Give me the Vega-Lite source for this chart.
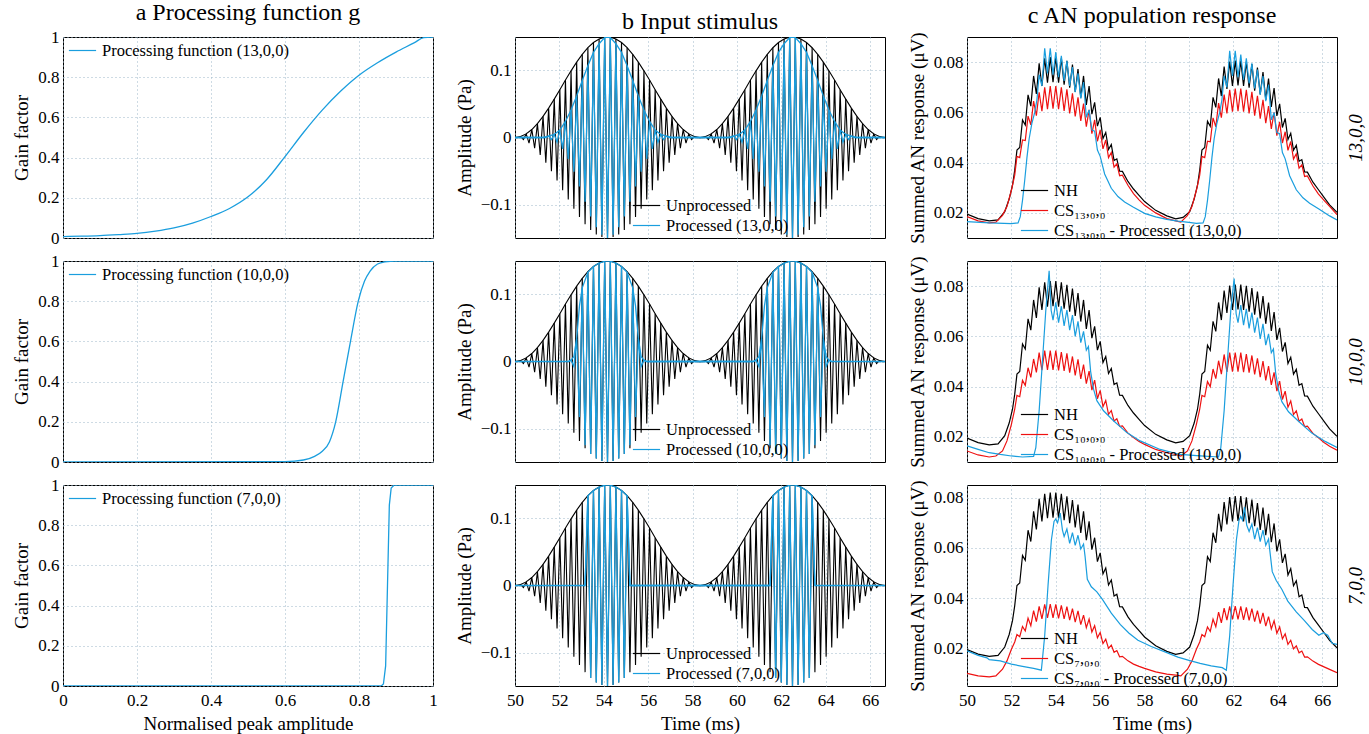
{
"$schema":"https://vega.github.io/schema/vega-lite/v6.json",
"background":"white",
"padding":{"left":12,"top":0,"right":2,"bottom":2},
"config":{
 "font":"Liberation Serif",
 "view":{"stroke":"#000","strokeWidth":1},
 "axis":{"labelFontSize":17,"titleFontSize":19,"titleFontWeight":"normal","labelColor":"#000","titleColor":"#000","gridColor":"#9db7c9","gridDash":[1,3],"gridWidth":1,"domain":false,"ticks":false,"titlePadding":6,"labelFlush":false,"labelOverlap":false},
 "axisX":{"labelPadding":6},
 "axisY":{"labelPadding":4},
 "legend":{"labelFontSize":16.5,"labelColor":"#000","symbolType":"M-1.6,0H1.6","symbolStrokeWidth":1.3,"symbolSize":289,"rowPadding":2,"padding":0,"labelLimit":400,"title":null,"labelOffset":10},
 "title":{"fontSize":24,"fontWeight":"normal","color":"#000","offset":3,"frame":"group"},
 "line":{"strokeWidth":1.2}
},
"datasets":{
"g13":[{"x":0,"y":0.007},{"x":0.05,"y":0.009},{"x":0.1,"y":0.012},{"x":0.15,"y":0.017},{"x":0.2,"y":0.023},{"x":0.25,"y":0.034},{"x":0.3,"y":0.05},{"x":0.35,"y":0.074},{"x":0.4,"y":0.107},{"x":0.45,"y":0.147},{"x":0.5,"y":0.205},{"x":0.55,"y":0.29},{"x":0.6,"y":0.405},{"x":0.65,"y":0.525},{"x":0.7,"y":0.635},{"x":0.75,"y":0.73},{"x":0.8,"y":0.81},{"x":0.85,"y":0.872},{"x":0.9,"y":0.925},{"x":0.95,"y":0.972},{"x":0.975,"y":0.997},{"x":1,"y":1}],
"g10":[{"x":0,"y":0},{"x":0.6,"y":0.002},{"x":0.65,"y":0.01},{"x":0.68,"y":0.028},{"x":0.7,"y":0.052},{"x":0.72,"y":0.1},{"x":0.737,"y":0.2},{"x":0.757,"y":0.4},{"x":0.777,"y":0.6},{"x":0.798,"y":0.8},{"x":0.815,"y":0.9},{"x":0.83,"y":0.95},{"x":0.85,"y":0.985},{"x":0.87,"y":0.996},{"x":0.9,"y":1},{"x":1,"y":1}],
"g7":[{"x":0,"y":0},{"x":0.86,"y":0},{"x":0.866,"y":0.01},{"x":0.872,"y":0.1},{"x":0.877,"y":0.5},{"x":0.882,"y":0.9},{"x":0.887,"y":0.985},{"x":0.895,"y":1},{"x":1,"y":1}],
"unpw":[{"t":50,"v":0},{"t":50.126,"v":-0.0003},{"t":50.253,"v":0.0014},{"t":50.379,"v":-0.003},{"t":50.505,"v":0.0054},{"t":50.631,"v":-0.0083},{"t":50.758,"v":0.0119},{"t":50.884,"v":-0.016},{"t":51.01,"v":0.0207},{"t":51.136,"v":-0.0259},{"t":51.263,"v":0.0315},{"t":51.389,"v":-0.0375},{"t":51.515,"v":0.0438},{"t":51.641,"v":-0.0505},{"t":51.768,"v":0.0573},{"t":51.894,"v":-0.0643},{"t":52.02,"v":0.0714},{"t":52.146,"v":-0.0786},{"t":52.273,"v":0.0857},{"t":52.399,"v":-0.0927},{"t":52.525,"v":0.0995},{"t":52.652,"v":-0.1062},{"t":52.778,"v":0.1125},{"t":52.904,"v":-0.1185},{"t":53.03,"v":0.1241},{"t":53.157,"v":-0.1293},{"t":53.283,"v":0.134},{"t":53.409,"v":-0.1381},{"t":53.535,"v":0.1417},{"t":53.662,"v":-0.1446},{"t":53.788,"v":0.147},{"t":53.914,"v":-0.1486},{"t":54.04,"v":0.1497},{"t":54.167,"v":-0.15},{"t":54.293,"v":0.1497},{"t":54.419,"v":-0.1486},{"t":54.545,"v":0.147},{"t":54.672,"v":-0.1446},{"t":54.798,"v":0.1417},{"t":54.924,"v":-0.1381},{"t":55.05,"v":0.134},{"t":55.177,"v":-0.1293},{"t":55.303,"v":0.1241},{"t":55.429,"v":-0.1185},{"t":55.556,"v":0.1125},{"t":55.682,"v":-0.1062},{"t":55.808,"v":0.0995},{"t":55.934,"v":-0.0927},{"t":56.061,"v":0.0857},{"t":56.187,"v":-0.0786},{"t":56.313,"v":0.0714},{"t":56.439,"v":-0.0643},{"t":56.566,"v":0.0573},{"t":56.692,"v":-0.0505},{"t":56.818,"v":0.0438},{"t":56.944,"v":-0.0375},{"t":57.071,"v":0.0315},{"t":57.197,"v":-0.0259},{"t":57.323,"v":0.0207},{"t":57.449,"v":-0.016},{"t":57.576,"v":0.0119},{"t":57.702,"v":-0.0083},{"t":57.828,"v":0.0054},{"t":57.955,"v":-0.003},{"t":58.081,"v":0.0014},{"t":58.207,"v":-0.0003},{"t":58.333,"v":0},{"t":58.46,"v":-0.0003},{"t":58.586,"v":0.0014},{"t":58.712,"v":-0.003},{"t":58.838,"v":0.0054},{"t":58.965,"v":-0.0083},{"t":59.091,"v":0.0119},{"t":59.217,"v":-0.016},{"t":59.343,"v":0.0207},{"t":59.47,"v":-0.0259},{"t":59.596,"v":0.0315},{"t":59.722,"v":-0.0375},{"t":59.848,"v":0.0438},{"t":59.975,"v":-0.0505},{"t":60.101,"v":0.0573},{"t":60.227,"v":-0.0643},{"t":60.354,"v":0.0714},{"t":60.48,"v":-0.0786},{"t":60.606,"v":0.0857},{"t":60.732,"v":-0.0927},{"t":60.859,"v":0.0995},{"t":60.985,"v":-0.1062},{"t":61.111,"v":0.1125},{"t":61.237,"v":-0.1185},{"t":61.364,"v":0.1241},{"t":61.49,"v":-0.1293},{"t":61.616,"v":0.134},{"t":61.742,"v":-0.1381},{"t":61.869,"v":0.1417},{"t":61.995,"v":-0.1446},{"t":62.121,"v":0.147},{"t":62.247,"v":-0.1486},{"t":62.374,"v":0.1497},{"t":62.5,"v":-0.15},{"t":62.626,"v":0.1497},{"t":62.753,"v":-0.1486},{"t":62.879,"v":0.147},{"t":63.005,"v":-0.1446},{"t":63.131,"v":0.1417},{"t":63.258,"v":-0.1381},{"t":63.384,"v":0.134},{"t":63.51,"v":-0.1293},{"t":63.636,"v":0.1241},{"t":63.763,"v":-0.1185},{"t":63.889,"v":0.1125},{"t":64.015,"v":-0.1062},{"t":64.141,"v":0.0995},{"t":64.268,"v":-0.0927},{"t":64.394,"v":0.0857},{"t":64.52,"v":-0.0786},{"t":64.646,"v":0.0714},{"t":64.773,"v":-0.0643},{"t":64.899,"v":0.0573},{"t":65.025,"v":-0.0505},{"t":65.152,"v":0.0438},{"t":65.278,"v":-0.0375},{"t":65.404,"v":0.0315},{"t":65.53,"v":-0.0259},{"t":65.657,"v":0.0207},{"t":65.783,"v":-0.016},{"t":65.909,"v":0.0119},{"t":66.035,"v":-0.0083},{"t":66.162,"v":0.0054},{"t":66.288,"v":-0.003},{"t":66.414,"v":0.0014},{"t":66.54,"v":-0.0003},{"t":66.667,"v":0}],
"unpe":[{"t":50,"v":0},{"t":50.253,"v":0.0014},{"t":50.505,"v":0.0054},{"t":50.758,"v":0.0119},{"t":51.01,"v":0.0207},{"t":51.263,"v":0.0315},{"t":51.515,"v":0.0438},{"t":51.768,"v":0.0573},{"t":52.02,"v":0.0714},{"t":52.273,"v":0.0857},{"t":52.525,"v":0.0995},{"t":52.778,"v":0.1125},{"t":53.03,"v":0.1241},{"t":53.283,"v":0.134},{"t":53.535,"v":0.1417},{"t":53.788,"v":0.147},{"t":54.04,"v":0.1497},{"t":54.167,"v":0.15},{"t":54.293,"v":0.1497},{"t":54.545,"v":0.147},{"t":54.798,"v":0.1417},{"t":55.05,"v":0.134},{"t":55.303,"v":0.1241},{"t":55.556,"v":0.1125},{"t":55.808,"v":0.0995},{"t":56.061,"v":0.0857},{"t":56.313,"v":0.0714},{"t":56.566,"v":0.0573},{"t":56.818,"v":0.0438},{"t":57.071,"v":0.0315},{"t":57.323,"v":0.0207},{"t":57.576,"v":0.0119},{"t":57.828,"v":0.0054},{"t":58.081,"v":0.0014},{"t":58.333,"v":0},{"t":58.586,"v":0.0014},{"t":58.838,"v":0.0054},{"t":59.091,"v":0.0119},{"t":59.343,"v":0.0207},{"t":59.596,"v":0.0315},{"t":59.848,"v":0.0438},{"t":60.101,"v":0.0573},{"t":60.354,"v":0.0714},{"t":60.606,"v":0.0857},{"t":60.859,"v":0.0995},{"t":61.111,"v":0.1125},{"t":61.364,"v":0.1241},{"t":61.616,"v":0.134},{"t":61.869,"v":0.1417},{"t":62.121,"v":0.147},{"t":62.374,"v":0.1497},{"t":62.5,"v":0.15},{"t":62.626,"v":0.1497},{"t":62.879,"v":0.147},{"t":63.131,"v":0.1417},{"t":63.384,"v":0.134},{"t":63.636,"v":0.1241},{"t":63.889,"v":0.1125},{"t":64.141,"v":0.0995},{"t":64.394,"v":0.0857},{"t":64.646,"v":0.0714},{"t":64.899,"v":0.0573},{"t":65.152,"v":0.0438},{"t":65.404,"v":0.0315},{"t":65.657,"v":0.0207},{"t":65.909,"v":0.0119},{"t":66.162,"v":0.0054},{"t":66.414,"v":0.0014},{"t":66.667,"v":0}],
"p13w":[{"t":50,"v":0},{"t":51.389,"v":0},{"t":51.515,"v":0.002},{"t":51.641,"v":-0.003},{"t":51.768,"v":0.0045},{"t":51.894,"v":-0.007},{"t":52.02,"v":0.011},{"t":52.146,"v":-0.017},{"t":52.273,"v":0.024},{"t":52.399,"v":-0.032},{"t":52.525,"v":0.041},{"t":52.652,"v":-0.051},{"t":52.778,"v":0.062},{"t":52.904,"v":-0.073},{"t":53.03,"v":0.085},{"t":53.157,"v":-0.096},{"t":53.283,"v":0.107},{"t":53.409,"v":-0.118},{"t":53.535,"v":0.127},{"t":53.662,"v":-0.134},{"t":53.788,"v":0.14},{"t":53.914,"v":-0.145},{"t":54.04,"v":0.149},{"t":54.167,"v":-0.15},{"t":54.293,"v":0.149},{"t":54.419,"v":-0.145},{"t":54.545,"v":0.14},{"t":54.672,"v":-0.134},{"t":54.798,"v":0.127},{"t":54.924,"v":-0.118},{"t":55.05,"v":0.107},{"t":55.177,"v":-0.096},{"t":55.303,"v":0.085},{"t":55.429,"v":-0.073},{"t":55.556,"v":0.062},{"t":55.682,"v":-0.051},{"t":55.808,"v":0.041},{"t":55.934,"v":-0.032},{"t":56.061,"v":0.024},{"t":56.187,"v":-0.017},{"t":56.313,"v":0.011},{"t":56.439,"v":-0.007},{"t":56.566,"v":0.0045},{"t":56.692,"v":-0.003},{"t":56.818,"v":0.002},{"t":56.944,"v":0},{"t":59.722,"v":0},{"t":59.848,"v":0.002},{"t":59.975,"v":-0.003},{"t":60.101,"v":0.0045},{"t":60.227,"v":-0.007},{"t":60.354,"v":0.011},{"t":60.48,"v":-0.017},{"t":60.606,"v":0.024},{"t":60.732,"v":-0.032},{"t":60.859,"v":0.041},{"t":60.985,"v":-0.051},{"t":61.111,"v":0.062},{"t":61.237,"v":-0.073},{"t":61.364,"v":0.085},{"t":61.49,"v":-0.096},{"t":61.616,"v":0.107},{"t":61.742,"v":-0.118},{"t":61.869,"v":0.127},{"t":61.995,"v":-0.134},{"t":62.121,"v":0.14},{"t":62.247,"v":-0.145},{"t":62.374,"v":0.149},{"t":62.5,"v":-0.15},{"t":62.626,"v":0.149},{"t":62.753,"v":-0.145},{"t":62.879,"v":0.14},{"t":63.005,"v":-0.134},{"t":63.131,"v":0.127},{"t":63.258,"v":-0.118},{"t":63.384,"v":0.107},{"t":63.51,"v":-0.096},{"t":63.636,"v":0.085},{"t":63.763,"v":-0.073},{"t":63.889,"v":0.062},{"t":64.015,"v":-0.051},{"t":64.141,"v":0.041},{"t":64.268,"v":-0.032},{"t":64.394,"v":0.024},{"t":64.52,"v":-0.017},{"t":64.646,"v":0.011},{"t":64.773,"v":-0.007},{"t":64.899,"v":0.0045},{"t":65.025,"v":-0.003},{"t":65.152,"v":0.002},{"t":65.278,"v":0},{"t":66.667,"v":0}],
"p13e":[{"t":50,"v":0},{"t":51.263,"v":0},{"t":51.515,"v":0.002},{"t":51.768,"v":0.0045},{"t":52.02,"v":0.011},{"t":52.273,"v":0.024},{"t":52.525,"v":0.041},{"t":52.778,"v":0.062},{"t":53.03,"v":0.085},{"t":53.283,"v":0.107},{"t":53.535,"v":0.127},{"t":53.788,"v":0.14},{"t":54.04,"v":0.149},{"t":54.167,"v":0.15},{"t":54.293,"v":0.149},{"t":54.545,"v":0.14},{"t":54.798,"v":0.127},{"t":55.05,"v":0.107},{"t":55.303,"v":0.085},{"t":55.556,"v":0.062},{"t":55.808,"v":0.041},{"t":56.061,"v":0.024},{"t":56.313,"v":0.011},{"t":56.566,"v":0.0045},{"t":56.818,"v":0.002},{"t":57.071,"v":0},{"t":59.596,"v":0},{"t":59.848,"v":0.002},{"t":60.101,"v":0.0045},{"t":60.354,"v":0.011},{"t":60.606,"v":0.024},{"t":60.859,"v":0.041},{"t":61.111,"v":0.062},{"t":61.364,"v":0.085},{"t":61.616,"v":0.107},{"t":61.869,"v":0.127},{"t":62.121,"v":0.14},{"t":62.374,"v":0.149},{"t":62.5,"v":0.15},{"t":62.626,"v":0.149},{"t":62.879,"v":0.14},{"t":63.131,"v":0.127},{"t":63.384,"v":0.107},{"t":63.636,"v":0.085},{"t":63.889,"v":0.062},{"t":64.141,"v":0.041},{"t":64.394,"v":0.024},{"t":64.646,"v":0.011},{"t":64.899,"v":0.0045},{"t":65.152,"v":0.002},{"t":65.404,"v":0},{"t":66.667,"v":0}],
"p10w":[{"t":50,"v":0},{"t":52.399,"v":0},{"t":52.525,"v":0.002},{"t":52.652,"v":-0.0074},{"t":52.778,"v":0.034},{"t":52.904,"v":-0.083},{"t":53.03,"v":0.11},{"t":53.157,"v":-0.125},{"t":53.283,"v":0.133},{"t":53.409,"v":-0.138},{"t":53.535,"v":0.1417},{"t":53.662,"v":-0.1446},{"t":53.788,"v":0.147},{"t":53.914,"v":-0.1486},{"t":54.04,"v":0.1497},{"t":54.167,"v":-0.15},{"t":54.293,"v":0.1497},{"t":54.419,"v":-0.1486},{"t":54.545,"v":0.147},{"t":54.672,"v":-0.1446},{"t":54.798,"v":0.1417},{"t":54.924,"v":-0.138},{"t":55.05,"v":0.133},{"t":55.177,"v":-0.125},{"t":55.303,"v":0.11},{"t":55.429,"v":-0.083},{"t":55.556,"v":0.034},{"t":55.682,"v":-0.0074},{"t":55.808,"v":0.002},{"t":55.934,"v":0},{"t":60.732,"v":0},{"t":60.859,"v":0.002},{"t":60.985,"v":-0.0074},{"t":61.111,"v":0.034},{"t":61.237,"v":-0.083},{"t":61.364,"v":0.11},{"t":61.49,"v":-0.125},{"t":61.616,"v":0.133},{"t":61.742,"v":-0.138},{"t":61.869,"v":0.1417},{"t":61.995,"v":-0.1446},{"t":62.121,"v":0.147},{"t":62.247,"v":-0.1486},{"t":62.374,"v":0.1497},{"t":62.5,"v":-0.15},{"t":62.626,"v":0.1497},{"t":62.753,"v":-0.1486},{"t":62.879,"v":0.147},{"t":63.005,"v":-0.1446},{"t":63.131,"v":0.1417},{"t":63.258,"v":-0.138},{"t":63.384,"v":0.133},{"t":63.51,"v":-0.125},{"t":63.636,"v":0.11},{"t":63.763,"v":-0.083},{"t":63.889,"v":0.034},{"t":64.015,"v":-0.0074},{"t":64.141,"v":0.002},{"t":64.268,"v":0},{"t":66.667,"v":0}],
"p10e":[{"t":52.399,"v":0},{"t":52.525,"v":0.002},{"t":52.652,"v":0.0074},{"t":52.778,"v":0.034},{"t":52.904,"v":0.083},{"t":53.03,"v":0.11},{"t":53.283,"v":0.133},{"t":53.535,"v":0.1417},{"t":53.788,"v":0.147},{"t":54.04,"v":0.1497},{"t":54.167,"v":0.15},{"t":54.293,"v":0.1497},{"t":54.545,"v":0.147},{"t":54.798,"v":0.1417},{"t":55.05,"v":0.133},{"t":55.303,"v":0.11},{"t":55.429,"v":0.083},{"t":55.556,"v":0.034},{"t":55.682,"v":0.0074},{"t":55.808,"v":0.002},{"t":55.934,"v":0},{"t":60.732,"v":0},{"t":60.859,"v":0.002},{"t":60.985,"v":0.0074},{"t":61.111,"v":0.034},{"t":61.237,"v":0.083},{"t":61.364,"v":0.11},{"t":61.616,"v":0.133},{"t":61.869,"v":0.1417},{"t":62.121,"v":0.147},{"t":62.374,"v":0.1497},{"t":62.5,"v":0.15},{"t":62.626,"v":0.1497},{"t":62.879,"v":0.147},{"t":63.131,"v":0.1417},{"t":63.384,"v":0.133},{"t":63.636,"v":0.11},{"t":63.763,"v":0.083},{"t":63.889,"v":0.034},{"t":64.015,"v":0.0074},{"t":64.141,"v":0.002},{"t":64.268,"v":0}],
"p7w":[{"t":50,"v":0},{"t":53.157,"v":0},{"t":53.283,"v":0.134},{"t":53.409,"v":-0.1381},{"t":53.535,"v":0.1417},{"t":53.662,"v":-0.1446},{"t":53.788,"v":0.147},{"t":53.914,"v":-0.1486},{"t":54.04,"v":0.1497},{"t":54.167,"v":-0.15},{"t":54.293,"v":0.1497},{"t":54.419,"v":-0.1486},{"t":54.545,"v":0.147},{"t":54.672,"v":-0.1446},{"t":54.798,"v":0.1417},{"t":54.924,"v":-0.1381},{"t":55.05,"v":0.134},{"t":55.177,"v":0},{"t":61.49,"v":0},{"t":61.616,"v":0.134},{"t":61.742,"v":-0.1381},{"t":61.869,"v":0.1417},{"t":61.995,"v":-0.1446},{"t":62.121,"v":0.147},{"t":62.247,"v":-0.1486},{"t":62.374,"v":0.1497},{"t":62.5,"v":-0.15},{"t":62.626,"v":0.1497},{"t":62.753,"v":-0.1486},{"t":62.879,"v":0.147},{"t":63.005,"v":-0.1446},{"t":63.131,"v":0.1417},{"t":63.258,"v":-0.1381},{"t":63.384,"v":0.134},{"t":63.51,"v":0},{"t":66.667,"v":0}],
"p7e":[{"t":53.157,"v":0},{"t":53.283,"v":0.134},{"t":53.535,"v":0.1417},{"t":53.788,"v":0.147},{"t":54.04,"v":0.1497},{"t":54.167,"v":0.15},{"t":54.293,"v":0.1497},{"t":54.545,"v":0.147},{"t":54.798,"v":0.1417},{"t":55.05,"v":0.134},{"t":55.177,"v":0},{"t":61.49,"v":0},{"t":61.616,"v":0.134},{"t":61.869,"v":0.1417},{"t":62.121,"v":0.147},{"t":62.374,"v":0.1497},{"t":62.5,"v":0.15},{"t":62.626,"v":0.1497},{"t":62.879,"v":0.147},{"t":63.131,"v":0.1417},{"t":63.384,"v":0.134},{"t":63.51,"v":0}],
"nh":[{"t":50,"v":0.0195},{"t":50.5,"v":0.0177},{"t":51,"v":0.0168},{"t":51.4,"v":0.0172},{"t":51.7,"v":0.0205},{"t":51.9,"v":0.0255},{"t":52.05,"v":0.031},{"t":52.15,"v":0.037},{"t":52.25,"v":0.045},{"t":52.375,"v":0.046},{"t":52.5,"v":0.057},{"t":52.625,"v":0.055},{"t":52.75,"v":0.067},{"t":52.875,"v":0.0625},{"t":53,"v":0.0745},{"t":53.125,"v":0.0673},{"t":53.25,"v":0.0795},{"t":53.375,"v":0.0705},{"t":53.5,"v":0.0815},{"t":53.625,"v":0.0718},{"t":53.75,"v":0.082},{"t":53.875,"v":0.072},{"t":54,"v":0.082},{"t":54.125,"v":0.0718},{"t":54.25,"v":0.0815},{"t":54.375,"v":0.071},{"t":54.5,"v":0.0805},{"t":54.625,"v":0.0698},{"t":54.75,"v":0.079},{"t":54.875,"v":0.0681},{"t":55,"v":0.0772},{"t":55.125,"v":0.0659},{"t":55.25,"v":0.0745},{"t":55.375,"v":0.063},{"t":55.5,"v":0.0705},{"t":55.625,"v":0.0593},{"t":55.75,"v":0.064},{"t":55.875,"v":0.0545},{"t":56,"v":0.058},{"t":56.125,"v":0.0496},{"t":56.25,"v":0.052},{"t":56.375,"v":0.0452},{"t":56.5,"v":0.0472},{"t":56.625,"v":0.0408},{"t":56.75,"v":0.0415},{"t":56.875,"v":0.0366},{"t":57,"v":0.0365},{"t":57.25,"v":0.0325},{"t":57.5,"v":0.0295},{"t":57.75,"v":0.027},{"t":58,"v":0.0245},{"t":58.5,"v":0.021},{"t":59,"v":0.0188},{"t":59.4,"v":0.0176},{"t":59.733,"v":0.0182},{"t":60.033,"v":0.0205},{"t":60.233,"v":0.0255},{"t":60.383,"v":0.031},{"t":60.483,"v":0.037},{"t":60.583,"v":0.045},{"t":60.708,"v":0.046},{"t":60.833,"v":0.0565},{"t":60.958,"v":0.0545},{"t":61.083,"v":0.066},{"t":61.208,"v":0.062},{"t":61.333,"v":0.0735},{"t":61.458,"v":0.0665},{"t":61.583,"v":0.0782},{"t":61.708,"v":0.0693},{"t":61.833,"v":0.0802},{"t":61.958,"v":0.0705},{"t":62.083,"v":0.0806},{"t":62.208,"v":0.0707},{"t":62.333,"v":0.0806},{"t":62.458,"v":0.0705},{"t":62.583,"v":0.0801},{"t":62.708,"v":0.0698},{"t":62.833,"v":0.0792},{"t":62.958,"v":0.0686},{"t":63.083,"v":0.0778},{"t":63.208,"v":0.0671},{"t":63.333,"v":0.076},{"t":63.458,"v":0.065},{"t":63.583,"v":0.0735},{"t":63.708,"v":0.0622},{"t":63.833,"v":0.0697},{"t":63.958,"v":0.0586},{"t":64.083,"v":0.0634},{"t":64.208,"v":0.054},{"t":64.333,"v":0.0576},{"t":64.458,"v":0.0492},{"t":64.583,"v":0.0517},{"t":64.708,"v":0.0449},{"t":64.833,"v":0.0469},{"t":64.958,"v":0.0405},{"t":65.083,"v":0.0412},{"t":65.208,"v":0.0363},{"t":65.333,"v":0.0362},{"t":65.583,"v":0.0322},{"t":65.833,"v":0.0292},{"t":66.083,"v":0.0262},{"t":66.333,"v":0.0232},{"t":66.667,"v":0.0202}],
"cs13":[{"t":50,"v":0.0185},{"t":50.5,"v":0.0168},{"t":51,"v":0.016},{"t":51.3,"v":0.0163},{"t":51.6,"v":0.019},{"t":51.8,"v":0.0225},{"t":52,"v":0.029},{"t":52.15,"v":0.035},{"t":52.25,"v":0.0425},{"t":52.375,"v":0.042},{"t":52.5,"v":0.049},{"t":52.625,"v":0.0488},{"t":52.75,"v":0.0585},{"t":52.875,"v":0.055},{"t":53,"v":0.0645},{"t":53.125,"v":0.0587},{"t":53.25,"v":0.068},{"t":53.375,"v":0.0605},{"t":53.5,"v":0.07},{"t":53.625,"v":0.0613},{"t":53.75,"v":0.0705},{"t":53.875,"v":0.0615},{"t":54,"v":0.0705},{"t":54.125,"v":0.0613},{"t":54.25,"v":0.07},{"t":54.375,"v":0.0606},{"t":54.5,"v":0.0692},{"t":54.625,"v":0.0596},{"t":54.75,"v":0.0676},{"t":54.875,"v":0.0584},{"t":55,"v":0.066},{"t":55.125,"v":0.0566},{"t":55.25,"v":0.0635},{"t":55.375,"v":0.0543},{"t":55.5,"v":0.061},{"t":55.625,"v":0.0515},{"t":55.75,"v":0.057},{"t":55.875,"v":0.0485},{"t":56,"v":0.053},{"t":56.125,"v":0.0455},{"t":56.25,"v":0.049},{"t":56.375,"v":0.042},{"t":56.5,"v":0.044},{"t":56.625,"v":0.0382},{"t":56.75,"v":0.0395},{"t":56.875,"v":0.0348},{"t":57,"v":0.035},{"t":57.25,"v":0.031},{"t":57.5,"v":0.0277},{"t":57.75,"v":0.0252},{"t":58,"v":0.023},{"t":58.5,"v":0.02},{"t":59,"v":0.0177},{"t":59.4,"v":0.0168},{"t":59.633,"v":0.0163},{"t":59.933,"v":0.019},{"t":60.133,"v":0.0225},{"t":60.333,"v":0.029},{"t":60.483,"v":0.035},{"t":60.583,"v":0.0425},{"t":60.708,"v":0.042},{"t":60.833,"v":0.0485},{"t":60.958,"v":0.0483},{"t":61.083,"v":0.0578},{"t":61.208,"v":0.0543},{"t":61.333,"v":0.0637},{"t":61.458,"v":0.0579},{"t":61.583,"v":0.0671},{"t":61.708,"v":0.0596},{"t":61.833,"v":0.069},{"t":61.958,"v":0.0603},{"t":62.083,"v":0.0695},{"t":62.208,"v":0.0605},{"t":62.333,"v":0.0695},{"t":62.458,"v":0.0603},{"t":62.583,"v":0.069},{"t":62.708,"v":0.0596},{"t":62.833,"v":0.0682},{"t":62.958,"v":0.0587},{"t":63.083,"v":0.0666},{"t":63.208,"v":0.0575},{"t":63.333,"v":0.065},{"t":63.458,"v":0.0557},{"t":63.583,"v":0.0625},{"t":63.708,"v":0.0534},{"t":63.833,"v":0.06},{"t":63.958,"v":0.0507},{"t":64.083,"v":0.0562},{"t":64.208,"v":0.0478},{"t":64.333,"v":0.0523},{"t":64.458,"v":0.0449},{"t":64.583,"v":0.0484},{"t":64.708,"v":0.0414},{"t":64.833,"v":0.0435},{"t":64.958,"v":0.0378},{"t":65.083,"v":0.0391},{"t":65.208,"v":0.0345},{"t":65.333,"v":0.0347},{"t":65.583,"v":0.0307},{"t":65.833,"v":0.0275},{"t":66.083,"v":0.025},{"t":66.333,"v":0.0226},{"t":66.667,"v":0.0193}],
"p13":[{"t":50,"v":0.0165},{"t":51,"v":0.016},{"t":52,"v":0.0157},{"t":52.3,"v":0.016},{"t":52.4,"v":0.0185},{"t":52.5,"v":0.025},{"t":52.6,"v":0.033},{"t":52.7,"v":0.042},{"t":52.8,"v":0.0495},{"t":52.92,"v":0.0555},{"t":53.05,"v":0.06},{"t":53.15,"v":0.065},{"t":53.25,"v":0.075},{"t":53.375,"v":0.0705},{"t":53.5,"v":0.0855},{"t":53.625,"v":0.0755},{"t":53.75,"v":0.0855},{"t":53.875,"v":0.075},{"t":54,"v":0.084},{"t":54.125,"v":0.074},{"t":54.25,"v":0.0825},{"t":54.375,"v":0.0725},{"t":54.5,"v":0.0805},{"t":54.625,"v":0.0705},{"t":54.75,"v":0.078},{"t":54.875,"v":0.068},{"t":55,"v":0.0755},{"t":55.125,"v":0.0655},{"t":55.25,"v":0.072},{"t":55.375,"v":0.058},{"t":55.5,"v":0.061},{"t":55.625,"v":0.053},{"t":55.75,"v":0.0525},{"t":55.875,"v":0.045},{"t":56,"v":0.0425},{"t":56.2,"v":0.0355},{"t":56.5,"v":0.0298},{"t":56.8,"v":0.0265},{"t":57.1,"v":0.0243},{"t":57.5,"v":0.0222},{"t":58,"v":0.0198},{"t":58.5,"v":0.0184},{"t":59,"v":0.0174},{"t":59.5,"v":0.0167},{"t":60,"v":0.0162},{"t":60.333,"v":0.0158},{"t":60.633,"v":0.016},{"t":60.733,"v":0.0185},{"t":60.833,"v":0.025},{"t":60.933,"v":0.033},{"t":61.033,"v":0.042},{"t":61.133,"v":0.0495},{"t":61.253,"v":0.0555},{"t":61.383,"v":0.06},{"t":61.483,"v":0.065},{"t":61.583,"v":0.0745},{"t":61.708,"v":0.07},{"t":61.833,"v":0.0845},{"t":61.958,"v":0.0745},{"t":62.083,"v":0.0845},{"t":62.208,"v":0.074},{"t":62.333,"v":0.083},{"t":62.458,"v":0.073},{"t":62.583,"v":0.0815},{"t":62.708,"v":0.0715},{"t":62.833,"v":0.0795},{"t":62.958,"v":0.0695},{"t":63.083,"v":0.077},{"t":63.208,"v":0.067},{"t":63.333,"v":0.0745},{"t":63.458,"v":0.0645},{"t":63.583,"v":0.071},{"t":63.708,"v":0.057},{"t":63.833,"v":0.06},{"t":63.958,"v":0.052},{"t":64.083,"v":0.0515},{"t":64.208,"v":0.044},{"t":64.333,"v":0.0415},{"t":64.533,"v":0.0348},{"t":64.833,"v":0.0292},{"t":65.133,"v":0.026},{"t":65.433,"v":0.0238},{"t":65.833,"v":0.0216},{"t":66.333,"v":0.0188},{"t":66.667,"v":0.0172}],
"cs10":[{"t":50,"v":0.0144},{"t":50.5,"v":0.0128},{"t":51,"v":0.012},{"t":51.3,"v":0.0124},{"t":51.6,"v":0.0144},{"t":51.8,"v":0.0184},{"t":52,"v":0.025},{"t":52.15,"v":0.031},{"t":52.25,"v":0.0365},{"t":52.375,"v":0.036},{"t":52.5,"v":0.0425},{"t":52.625,"v":0.0405},{"t":52.75,"v":0.0475},{"t":52.875,"v":0.0437},{"t":53,"v":0.051},{"t":53.125,"v":0.0457},{"t":53.25,"v":0.0535},{"t":53.375,"v":0.0466},{"t":53.5,"v":0.0543},{"t":53.625,"v":0.0467},{"t":53.75,"v":0.0543},{"t":53.875,"v":0.0467},{"t":54,"v":0.0543},{"t":54.125,"v":0.0465},{"t":54.25,"v":0.0537},{"t":54.375,"v":0.0463},{"t":54.5,"v":0.0532},{"t":54.625,"v":0.0456},{"t":54.75,"v":0.052},{"t":54.875,"v":0.0445},{"t":55,"v":0.0509},{"t":55.125,"v":0.0431},{"t":55.25,"v":0.0488},{"t":55.375,"v":0.0412},{"t":55.5,"v":0.0462},{"t":55.625,"v":0.0386},{"t":55.75,"v":0.0426},{"t":55.875,"v":0.0352},{"t":56,"v":0.0385},{"t":56.125,"v":0.032},{"t":56.25,"v":0.0345},{"t":56.375,"v":0.029},{"t":56.5,"v":0.0305},{"t":56.625,"v":0.0263},{"t":56.75,"v":0.0272},{"t":56.875,"v":0.0242},{"t":57,"v":0.0244},{"t":57.25,"v":0.0215},{"t":57.5,"v":0.0197},{"t":57.75,"v":0.0182},{"t":58,"v":0.017},{"t":58.5,"v":0.015},{"t":59,"v":0.0137},{"t":59.4,"v":0.013},{"t":59.633,"v":0.0124},{"t":59.933,"v":0.0144},{"t":60.133,"v":0.0184},{"t":60.333,"v":0.025},{"t":60.483,"v":0.031},{"t":60.583,"v":0.0365},{"t":60.708,"v":0.036},{"t":60.833,"v":0.042},{"t":60.958,"v":0.04},{"t":61.083,"v":0.047},{"t":61.208,"v":0.0432},{"t":61.333,"v":0.0503},{"t":61.458,"v":0.045},{"t":61.583,"v":0.0528},{"t":61.708,"v":0.0459},{"t":61.833,"v":0.0535},{"t":61.958,"v":0.046},{"t":62.083,"v":0.0535},{"t":62.208,"v":0.046},{"t":62.333,"v":0.0535},{"t":62.458,"v":0.0458},{"t":62.583,"v":0.0529},{"t":62.708,"v":0.0456},{"t":62.833,"v":0.0524},{"t":62.958,"v":0.0449},{"t":63.083,"v":0.0513},{"t":63.208,"v":0.0438},{"t":63.333,"v":0.0502},{"t":63.458,"v":0.0425},{"t":63.583,"v":0.0482},{"t":63.708,"v":0.0407},{"t":63.833,"v":0.0457},{"t":63.958,"v":0.0382},{"t":64.083,"v":0.0422},{"t":64.208,"v":0.0349},{"t":64.333,"v":0.0382},{"t":64.458,"v":0.0318},{"t":64.583,"v":0.0343},{"t":64.708,"v":0.0289},{"t":64.833,"v":0.0304},{"t":64.958,"v":0.0262},{"t":65.083,"v":0.0271},{"t":65.208,"v":0.0241},{"t":65.333,"v":0.0243},{"t":65.583,"v":0.0214},{"t":65.833,"v":0.0196},{"t":66.083,"v":0.0178},{"t":66.333,"v":0.0163},{"t":66.667,"v":0.0147}],
"p10":[{"t":50,"v":0.0164},{"t":50.5,"v":0.015},{"t":51,"v":0.0137},{"t":51.5,"v":0.013},{"t":52,"v":0.0124},{"t":52.5,"v":0.012},{"t":53,"v":0.0122},{"t":53.1,"v":0.0157},{"t":53.25,"v":0.0304},{"t":53.4,"v":0.0504},{"t":53.55,"v":0.0704},{"t":53.7,"v":0.0861},{"t":53.79,"v":0.0704},{"t":53.875,"v":0.0665},{"t":54,"v":0.0735},{"t":54.125,"v":0.0655},{"t":54.25,"v":0.072},{"t":54.375,"v":0.0642},{"t":54.5,"v":0.0705},{"t":54.625,"v":0.0625},{"t":54.75,"v":0.0685},{"t":54.875,"v":0.06},{"t":55,"v":0.066},{"t":55.125,"v":0.0575},{"t":55.25,"v":0.062},{"t":55.375,"v":0.0545},{"t":55.47,"v":0.056},{"t":55.57,"v":0.046},{"t":55.7,"v":0.039},{"t":55.85,"v":0.0344},{"t":56.15,"v":0.0304},{"t":56.6,"v":0.0264},{"t":57.2,"v":0.0217},{"t":57.8,"v":0.0184},{"t":58.7,"v":0.015},{"t":59.6,"v":0.013},{"t":60.5,"v":0.0124},{"t":61.333,"v":0.012},{"t":61.433,"v":0.0157},{"t":61.583,"v":0.0304},{"t":61.733,"v":0.0504},{"t":61.883,"v":0.0704},{"t":62.033,"v":0.083},{"t":62.123,"v":0.069},{"t":62.208,"v":0.0655},{"t":62.333,"v":0.0725},{"t":62.458,"v":0.0645},{"t":62.583,"v":0.071},{"t":62.708,"v":0.0632},{"t":62.833,"v":0.0695},{"t":62.958,"v":0.0615},{"t":63.083,"v":0.0675},{"t":63.208,"v":0.059},{"t":63.333,"v":0.065},{"t":63.458,"v":0.0565},{"t":63.583,"v":0.061},{"t":63.708,"v":0.0535},{"t":63.803,"v":0.055},{"t":63.903,"v":0.0455},{"t":64.033,"v":0.0385},{"t":64.183,"v":0.034},{"t":64.483,"v":0.03},{"t":64.933,"v":0.0262},{"t":65.533,"v":0.0215},{"t":66.133,"v":0.0182},{"t":66.667,"v":0.0158}],
"cs7":[{"t":50,"v":0.01},{"t":50.5,"v":0.009},{"t":51,"v":0.0086},{"t":51.3,"v":0.009},{"t":51.6,"v":0.0117},{"t":51.8,"v":0.015},{"t":52,"v":0.0196},{"t":52.15,"v":0.0225},{"t":52.25,"v":0.0255},{"t":52.375,"v":0.0246},{"t":52.5,"v":0.0287},{"t":52.625,"v":0.0269},{"t":52.75,"v":0.032},{"t":52.875,"v":0.029},{"t":53,"v":0.035},{"t":53.125,"v":0.0306},{"t":53.25,"v":0.0367},{"t":53.375,"v":0.0317},{"t":53.5,"v":0.0375},{"t":53.625,"v":0.0321},{"t":53.75,"v":0.0376},{"t":53.875,"v":0.0321},{"t":54,"v":0.0375},{"t":54.125,"v":0.0319},{"t":54.25,"v":0.0371},{"t":54.375,"v":0.0317},{"t":54.5,"v":0.0366},{"t":54.625,"v":0.0312},{"t":54.75,"v":0.0358},{"t":54.875,"v":0.0304},{"t":55,"v":0.0349},{"t":55.125,"v":0.0294},{"t":55.25,"v":0.0332},{"t":55.375,"v":0.0282},{"t":55.5,"v":0.0316},{"t":55.625,"v":0.0265},{"t":55.75,"v":0.029},{"t":55.875,"v":0.0242},{"t":56,"v":0.0263},{"t":56.125,"v":0.0219},{"t":56.25,"v":0.0236},{"t":56.375,"v":0.02},{"t":56.5,"v":0.0213},{"t":56.625,"v":0.0184},{"t":56.75,"v":0.0191},{"t":56.875,"v":0.0166},{"t":57,"v":0.0168},{"t":57.25,"v":0.015},{"t":57.5,"v":0.0137},{"t":57.75,"v":0.0128},{"t":58,"v":0.012},{"t":58.5,"v":0.0106},{"t":59,"v":0.0097},{"t":59.4,"v":0.0093},{"t":59.633,"v":0.009},{"t":59.933,"v":0.0117},{"t":60.133,"v":0.015},{"t":60.333,"v":0.0196},{"t":60.483,"v":0.0225},{"t":60.583,"v":0.0255},{"t":60.708,"v":0.0246},{"t":60.833,"v":0.0285},{"t":60.958,"v":0.0267},{"t":61.083,"v":0.0316},{"t":61.208,"v":0.0286},{"t":61.333,"v":0.0344},{"t":61.458,"v":0.0301},{"t":61.583,"v":0.036},{"t":61.708,"v":0.0312},{"t":61.833,"v":0.0367},{"t":61.958,"v":0.0315},{"t":62.083,"v":0.0368},{"t":62.208,"v":0.0315},{"t":62.333,"v":0.0367},{"t":62.458,"v":0.0313},{"t":62.583,"v":0.0363},{"t":62.708,"v":0.0311},{"t":62.833,"v":0.0358},{"t":62.958,"v":0.0306},{"t":63.083,"v":0.035},{"t":63.208,"v":0.0298},{"t":63.333,"v":0.0341},{"t":63.458,"v":0.0288},{"t":63.583,"v":0.0326},{"t":63.708,"v":0.0277},{"t":63.833,"v":0.031},{"t":63.958,"v":0.026},{"t":64.083,"v":0.0285},{"t":64.208,"v":0.0238},{"t":64.333,"v":0.0258},{"t":64.458,"v":0.0216},{"t":64.583,"v":0.0232},{"t":64.708,"v":0.0198},{"t":64.833,"v":0.021},{"t":64.958,"v":0.0182},{"t":65.083,"v":0.0189},{"t":65.208,"v":0.0165},{"t":65.333,"v":0.0166},{"t":65.583,"v":0.0149},{"t":65.833,"v":0.0136},{"t":66.083,"v":0.0126},{"t":66.333,"v":0.0116},{"t":66.667,"v":0.0103}],
"p7":[{"t":50,"v":0.019},{"t":50.5,"v":0.0172},{"t":50.9,"v":0.0162},{"t":51,"v":0.0155},{"t":51.5,"v":0.015},{"t":52,"v":0.0137},{"t":52.5,"v":0.0128},{"t":53,"v":0.012},{"t":53.35,"v":0.0113},{"t":53.5,"v":0.025},{"t":53.65,"v":0.045},{"t":53.8,"v":0.063},{"t":53.92,"v":0.0705},{"t":54,"v":0.0715},{"t":54.08,"v":0.07},{"t":54.2,"v":0.0738},{"t":54.3,"v":0.067},{"t":54.375,"v":0.0645},{"t":54.5,"v":0.0675},{"t":54.625,"v":0.0618},{"t":54.75,"v":0.066},{"t":54.875,"v":0.061},{"t":55,"v":0.065},{"t":55.125,"v":0.0595},{"t":55.25,"v":0.0615},{"t":55.32,"v":0.0565},{"t":55.42,"v":0.0475},{"t":55.6,"v":0.0445},{"t":55.85,"v":0.0425},{"t":56.1,"v":0.0395},{"t":56.5,"v":0.034},{"t":56.9,"v":0.0295},{"t":57.3,"v":0.026},{"t":57.7,"v":0.0232},{"t":58.3,"v":0.0207},{"t":59,"v":0.0183},{"t":59.5,"v":0.0165},{"t":60,"v":0.0152},{"t":60.5,"v":0.014},{"t":61,"v":0.013},{"t":61.5,"v":0.0123},{"t":61.683,"v":0.0113},{"t":61.833,"v":0.025},{"t":61.983,"v":0.045},{"t":62.133,"v":0.063},{"t":62.253,"v":0.071},{"t":62.333,"v":0.0725},{"t":62.413,"v":0.071},{"t":62.5,"v":0.0762},{"t":62.6,"v":0.069},{"t":62.708,"v":0.0665},{"t":62.833,"v":0.0695},{"t":62.958,"v":0.0635},{"t":63.083,"v":0.068},{"t":63.208,"v":0.0625},{"t":63.333,"v":0.067},{"t":63.458,"v":0.061},{"t":63.583,"v":0.0635},{"t":63.653,"v":0.058},{"t":63.75,"v":0.0505},{"t":63.93,"v":0.047},{"t":64.18,"v":0.0435},{"t":64.45,"v":0.0388},{"t":64.83,"v":0.0345},{"t":65.2,"v":0.031},{"t":65.55,"v":0.0275},{"t":65.85,"v":0.0252},{"t":66.05,"v":0.0262},{"t":66.25,"v":0.0252},{"t":66.45,"v":0.022},{"t":66.667,"v":0.0216}]
},
"columns":3,
"spacing":{"row":23,"column":82},
"bounds":"flush",
"resolve":{"scale":{"x":"independent","y":"independent","color":"independent"},"axis":{"x":"independent","y":"independent"},"legend":{"color":"independent"}},
"concat":[
{"width":370,"height":201,"title":{"text":"a Processing function g"},"data":{"name":"g13"},"mark":{"type":"line","clip":true,"strokeWidth":1.3,"interpolate":"monotone"},
 "encoding":{"x":{"field":"x","type":"quantitative","scale":{"domain":[0,1],"nice":false},"axis":{"values":[0,0.2,0.4,0.6,0.8,1],"labels":false,"title":null}},
  "y":{"field":"y","type":"quantitative","scale":{"domain":[0,1],"nice":false},"axis":{"values":[0,0.2,0.4,0.6,0.8,1],"format":"~g","title":"Gain factor"}},
  "color":{"datum":"Processing function (13,0,0)","type":"nominal","scale":{"range":["#1a9ede"]},"legend":{"orient":"none","legendX":10,"legendY":4}}}},
{"width":370,"height":201,"title":{"text":"b Input stimulus"},
 "encoding":{"x":{"field":"t","type":"quantitative","scale":{"domain":[50,66.667],"nice":false,"zero":false},"axis":{"values":[50,52,54,56,58,60,62,64,66],"labels":false,"title":null}},
  "y":{"field":"v","type":"quantitative","scale":{"domain":[-0.15,0.15],"nice":false},"axis":{"values":[-0.1,0,0.1],"format":"~g","title":"Amplitude (Pa)"}}},
 "layer":[
  {"data":{"name":"unpw"},"mark":{"type":"line","clip":true,"strokeWidth":1.1},"encoding":{"color":{"datum":"Unprocessed","type":"nominal","scale":{"domain":["Unprocessed","Processed (13,0,0)"],"range":["#000000","#1a9ede"]},"legend":{"orient":"none","legendX":122,"legendY":159}}}},
  {"data":{"name":"unpe"},"mark":{"type":"line","clip":true,"strokeWidth":1.1},"encoding":{"color":{"datum":"Unprocessed","type":"nominal","scale":{"domain":["Unprocessed","Processed (13,0,0)"],"range":["#000000","#1a9ede"]},"legend":{"orient":"none","legendX":122,"legendY":159}}}},
  {"data":{"name":"p13w"},"mark":{"type":"line","clip":true,"strokeWidth":1.3},"encoding":{"color":{"datum":"Processed (13,0,0)","type":"nominal","scale":{"domain":["Unprocessed","Processed (13,0,0)"],"range":["#000000","#1a9ede"]},"legend":{"orient":"none","legendX":122,"legendY":159}}}},
  {"data":{"name":"p13e"},"mark":{"type":"line","clip":true,"strokeWidth":1.3},"encoding":{"color":{"datum":"Processed (13,0,0)","type":"nominal","scale":{"domain":["Unprocessed","Processed (13,0,0)"],"range":["#000000","#1a9ede"]},"legend":{"orient":"none","legendX":122,"legendY":159}}}}
 ]},
{"width":370,"height":201,"title":{"text":"c AN population response"},
 "encoding":{"x":{"field":"t","type":"quantitative","scale":{"domain":[50,66.667],"nice":false,"zero":false},"axis":{"values":[50,52,54,56,58,60,62,64,66],"labels":false,"title":null}}},
 "layer":[
  {"data":{"name":"nh"},"mark":{"type":"line","clip":true},"encoding":{"y":{"field":"v","type":"quantitative","scale":{"domain":[0.01,0.09],"nice":false,"zero":false},"axis":{"values":[0.02,0.04,0.06,0.08],"format":"~g","title":"Summed AN response (μV)"}},"color":{"datum":"NH","type":"nominal","scale":{"domain":["NH","CS₁₃,₀,₀","CS₁₃,₀,₀ - Processed (13,0,0)"],"range":["#000000","#ee1111","#1a9ede"]},"legend":{"orient":"none","legendX":58,"legendY":144}}}},
  {"data":{"name":"cs13"},"mark":{"type":"line","clip":true},"encoding":{"y":{"field":"v","type":"quantitative","scale":{"domain":[0.01,0.09],"nice":false,"zero":false},"axis":{"orient":"right","labels":false,"ticks":false,"grid":false,"domain":false,"title":"13,0,0","titleFontStyle":"italic","titleAngle":-90,"titlePadding":28}},"color":{"datum":"CS₁₃,₀,₀","type":"nominal","scale":{"domain":["NH","CS₁₃,₀,₀","CS₁₃,₀,₀ - Processed (13,0,0)"],"range":["#000000","#ee1111","#1a9ede"]},"legend":{"orient":"none","legendX":58,"legendY":144}}}},
  {"data":{"name":"p13"},"mark":{"type":"line","clip":true},"encoding":{"y":{"field":"v","type":"quantitative","scale":{"domain":[0.01,0.09],"nice":false,"zero":false},"axis":null},"color":{"datum":"CS₁₃,₀,₀ - Processed (13,0,0)","type":"nominal","scale":{"domain":["NH","CS₁₃,₀,₀","CS₁₃,₀,₀ - Processed (13,0,0)"],"range":["#000000","#ee1111","#1a9ede"]},"legend":{"orient":"none","legendX":58,"legendY":144}}}}
 ],
 "resolve":{"axis":{"y":"independent"}}},
{"width":370,"height":201,"data":{"name":"g10"},"mark":{"type":"line","clip":true,"strokeWidth":1.3,"interpolate":"monotone"},
 "encoding":{"x":{"field":"x","type":"quantitative","scale":{"domain":[0,1],"nice":false},"axis":{"values":[0,0.2,0.4,0.6,0.8,1],"labels":false,"title":null}},
  "y":{"field":"y","type":"quantitative","scale":{"domain":[0,1],"nice":false},"axis":{"values":[0,0.2,0.4,0.6,0.8,1],"format":"~g","title":"Gain factor"}},
  "color":{"datum":"Processing function (10,0,0)","type":"nominal","scale":{"range":["#1a9ede"]},"legend":{"orient":"none","legendX":10,"legendY":4}}}},
{"width":370,"height":201,
 "encoding":{"x":{"field":"t","type":"quantitative","scale":{"domain":[50,66.667],"nice":false,"zero":false},"axis":{"values":[50,52,54,56,58,60,62,64,66],"labels":false,"title":null}},
  "y":{"field":"v","type":"quantitative","scale":{"domain":[-0.15,0.15],"nice":false},"axis":{"values":[-0.1,0,0.1],"format":"~g","title":"Amplitude (Pa)"}}},
 "layer":[
  {"data":{"name":"unpw"},"mark":{"type":"line","clip":true,"strokeWidth":1.1},"encoding":{"color":{"datum":"Unprocessed","type":"nominal","scale":{"domain":["Unprocessed","Processed (10,0,0)"],"range":["#000000","#1a9ede"]},"legend":{"orient":"none","legendX":122,"legendY":159}}}},
  {"data":{"name":"unpe"},"mark":{"type":"line","clip":true,"strokeWidth":1.1},"encoding":{"color":{"datum":"Unprocessed","type":"nominal","scale":{"domain":["Unprocessed","Processed (10,0,0)"],"range":["#000000","#1a9ede"]},"legend":{"orient":"none","legendX":122,"legendY":159}}}},
  {"data":{"name":"p10w"},"mark":{"type":"line","clip":true,"strokeWidth":1.3},"encoding":{"color":{"datum":"Processed (10,0,0)","type":"nominal","scale":{"domain":["Unprocessed","Processed (10,0,0)"],"range":["#000000","#1a9ede"]},"legend":{"orient":"none","legendX":122,"legendY":159}}}},
  {"data":{"name":"p10e"},"mark":{"type":"line","clip":true,"strokeWidth":1.3},"encoding":{"color":{"datum":"Processed (10,0,0)","type":"nominal","scale":{"domain":["Unprocessed","Processed (10,0,0)"],"range":["#000000","#1a9ede"]},"legend":{"orient":"none","legendX":122,"legendY":159}}}}
 ]},
{"width":370,"height":201,
 "encoding":{"x":{"field":"t","type":"quantitative","scale":{"domain":[50,66.667],"nice":false,"zero":false},"axis":{"values":[50,52,54,56,58,60,62,64,66],"labels":false,"title":null}}},
 "layer":[
  {"data":{"name":"nh"},"mark":{"type":"line","clip":true},"encoding":{"y":{"field":"v","type":"quantitative","scale":{"domain":[0.01,0.09],"nice":false,"zero":false},"axis":{"values":[0.02,0.04,0.06,0.08],"format":"~g","title":"Summed AN response (μV)"}},"color":{"datum":"NH","type":"nominal","scale":{"domain":["NH","CS₁₀,₀,₀","CS₁₀,₀,₀ - Processed (10,0,0)"],"range":["#000000","#ee1111","#1a9ede"]},"legend":{"orient":"none","legendX":58,"legendY":144}}}},
  {"data":{"name":"cs10"},"mark":{"type":"line","clip":true},"encoding":{"y":{"field":"v","type":"quantitative","scale":{"domain":[0.01,0.09],"nice":false,"zero":false},"axis":{"orient":"right","labels":false,"ticks":false,"grid":false,"domain":false,"title":"10,0,0","titleFontStyle":"italic","titleAngle":-90,"titlePadding":28}},"color":{"datum":"CS₁₀,₀,₀","type":"nominal","scale":{"domain":["NH","CS₁₀,₀,₀","CS₁₀,₀,₀ - Processed (10,0,0)"],"range":["#000000","#ee1111","#1a9ede"]},"legend":{"orient":"none","legendX":58,"legendY":144}}}},
  {"data":{"name":"p10"},"mark":{"type":"line","clip":true},"encoding":{"y":{"field":"v","type":"quantitative","scale":{"domain":[0.01,0.09],"nice":false,"zero":false},"axis":null},"color":{"datum":"CS₁₀,₀,₀ - Processed (10,0,0)","type":"nominal","scale":{"domain":["NH","CS₁₀,₀,₀","CS₁₀,₀,₀ - Processed (10,0,0)"],"range":["#000000","#ee1111","#1a9ede"]},"legend":{"orient":"none","legendX":58,"legendY":144}}}}
 ],
 "resolve":{"axis":{"y":"independent"}}},
{"width":370,"height":201,"data":{"name":"g7"},"mark":{"type":"line","clip":true,"strokeWidth":1.3},
 "encoding":{"x":{"field":"x","type":"quantitative","scale":{"domain":[0,1],"nice":false},"axis":{"values":[0,0.2,0.4,0.6,0.8,1],"format":"~g","title":"Normalised peak amplitude"}},
  "y":{"field":"y","type":"quantitative","scale":{"domain":[0,1],"nice":false},"axis":{"values":[0,0.2,0.4,0.6,0.8,1],"format":"~g","title":"Gain factor"}},
  "color":{"datum":"Processing function (7,0,0)","type":"nominal","scale":{"range":["#1a9ede"]},"legend":{"orient":"none","legendX":10,"legendY":4}}}},
{"width":370,"height":201,
 "encoding":{"x":{"field":"t","type":"quantitative","scale":{"domain":[50,66.667],"nice":false,"zero":false},"axis":{"values":[50,52,54,56,58,60,62,64,66],"title":"Time (ms)"}},
  "y":{"field":"v","type":"quantitative","scale":{"domain":[-0.15,0.15],"nice":false},"axis":{"values":[-0.1,0,0.1],"format":"~g","title":"Amplitude (Pa)"}}},
 "layer":[
  {"data":{"name":"unpw"},"mark":{"type":"line","clip":true,"strokeWidth":1.1},"encoding":{"color":{"datum":"Unprocessed","type":"nominal","scale":{"domain":["Unprocessed","Processed (7,0,0)"],"range":["#000000","#1a9ede"]},"legend":{"orient":"none","legendX":122,"legendY":159}}}},
  {"data":{"name":"unpe"},"mark":{"type":"line","clip":true,"strokeWidth":1.1},"encoding":{"color":{"datum":"Unprocessed","type":"nominal","scale":{"domain":["Unprocessed","Processed (7,0,0)"],"range":["#000000","#1a9ede"]},"legend":{"orient":"none","legendX":122,"legendY":159}}}},
  {"data":{"name":"p7w"},"mark":{"type":"line","clip":true,"strokeWidth":1.3},"encoding":{"color":{"datum":"Processed (7,0,0)","type":"nominal","scale":{"domain":["Unprocessed","Processed (7,0,0)"],"range":["#000000","#1a9ede"]},"legend":{"orient":"none","legendX":122,"legendY":159}}}},
  {"data":{"name":"p7e"},"mark":{"type":"line","clip":true,"strokeWidth":1.3},"encoding":{"color":{"datum":"Processed (7,0,0)","type":"nominal","scale":{"domain":["Unprocessed","Processed (7,0,0)"],"range":["#000000","#1a9ede"]},"legend":{"orient":"none","legendX":122,"legendY":159}}}}
 ]},
{"width":370,"height":201,
 "encoding":{"x":{"field":"t","type":"quantitative","scale":{"domain":[50,66.667],"nice":false,"zero":false},"axis":{"values":[50,52,54,56,58,60,62,64,66],"title":"Time (ms)"}}},
 "layer":[
  {"data":{"name":"nh"},"mark":{"type":"line","clip":true},"encoding":{"y":{"field":"v","type":"quantitative","scale":{"domain":[0.005,0.085],"nice":false,"zero":false},"axis":{"values":[0.02,0.04,0.06,0.08],"format":"~g","title":"Summed AN response (μV)"}},"color":{"datum":"NH","type":"nominal","scale":{"domain":["NH","CS₇,₀,₀","CS₇,₀,₀ - Processed (7,0,0)"],"range":["#000000","#ee1111","#1a9ede"]},"legend":{"orient":"none","legendX":58,"legendY":144}}}},
  {"data":{"name":"cs7"},"mark":{"type":"line","clip":true},"encoding":{"y":{"field":"v","type":"quantitative","scale":{"domain":[0.005,0.085],"nice":false,"zero":false},"axis":{"orient":"right","labels":false,"ticks":false,"grid":false,"domain":false,"title":"7,0,0","titleFontStyle":"italic","titleAngle":-90,"titlePadding":28}},"color":{"datum":"CS₇,₀,₀","type":"nominal","scale":{"domain":["NH","CS₇,₀,₀","CS₇,₀,₀ - Processed (7,0,0)"],"range":["#000000","#ee1111","#1a9ede"]},"legend":{"orient":"none","legendX":58,"legendY":144}}}},
  {"data":{"name":"p7"},"mark":{"type":"line","clip":true},"encoding":{"y":{"field":"v","type":"quantitative","scale":{"domain":[0.005,0.085],"nice":false,"zero":false},"axis":null},"color":{"datum":"CS₇,₀,₀ - Processed (7,0,0)","type":"nominal","scale":{"domain":["NH","CS₇,₀,₀","CS₇,₀,₀ - Processed (7,0,0)"],"range":["#000000","#ee1111","#1a9ede"]},"legend":{"orient":"none","legendX":58,"legendY":144}}}}
 ],
 "resolve":{"axis":{"y":"independent"}}}
]
}
